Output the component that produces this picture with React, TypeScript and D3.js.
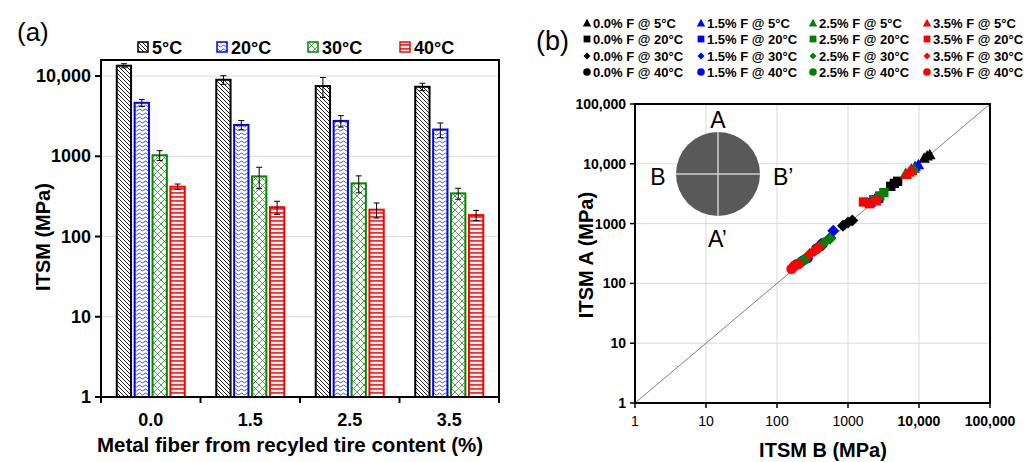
import React from "react";
import * as d3 from "d3";

// ---------- Panel (a) data ----------
const fiberContents = ["0.0", "1.5", "2.5", "3.5"];
const temps = ["5°C", "20°C", "30°C", "40°C"];
const itsm5 = [13450, 8990, 7500, 7350];
const itsm20 = [4640, 2460, 2760, 2155];
const itsm30 = [1030, 562, 460, 345];
const itsm40 = [418, 232, 216, 185];
const err5 = [800, 1100, 2100, 780];
const err20 = [450, 325, 450, 445];
const err30 = [145, 167, 110, 54];
const err40 = [33, 43, 46, 27];
const yTicksA = [1, 10, 100, 1000, 10000];
const yTickLabelsA = ["1", "10", "100", "1000", "10,000"];

// ---------- Panel (b) data (ITSM B, ITSM A per temperature) ----------
const fiberLabels = ["0.0%", "1.5%", "2.5%", "3.5%"];
const pointsB_00 = [[11800, 13000, 14200], [4000, 4500, 5000], [850, 1000, 1150], [360, 410, 440]];
const pointsA_00 = [[12500, 13600, 14300], [4200, 4700, 5100], [920, 1040, 1130], [380, 420, 460]];
const pointsB_15 = [[7800, 8800, 9800], [2100, 2450, 2700], [420, 560, 620], [190, 230, 270]];
const pointsA_15 = [[8200, 9100, 9700], [2250, 2500, 2650], [460, 580, 760], [210, 240, 265]];
const pointsB_25 = [[6500, 7600, 8600], [2300, 2800, 3200], [360, 460, 560], [180, 215, 250]];
const pointsA_25 = [[7000, 7700, 8400], [2500, 2900, 3300], [380, 480, 560], [200, 225, 255]];
const pointsB_35 = [[6600, 7200, 7900], [1650, 2000, 2500], [290, 340, 390], [160, 175, 200]];
const pointsA_35 = [[6700, 7300, 7800], [2300, 2150, 2400], [310, 350, 400], [175, 195, 210]];
const logTicksB = [1, 10, 100, 1000, 10000, 100000];
const logTickLabelsB = ["1", "10", "100", "1000", "10,000", "100,000"];

const FONT = "'Liberation Sans', Arial, sans-serif";
const seriesColors = ["#000000", "#0000ff", "#008000", "#ff0000"];
const barPatterns = ["pBlack", "pBlue", "pGreen", "pRed"];
const barStrokes = ["#000000", "#0000ff", "#008a00", "#ff0000"];

function shapePath(kind: number, s: number): string {
  const h = s / 2;
  if (kind === 0) {
    return `M0,${-h * 1.05}L${h * 1.05},${h * 0.85}L${-h * 1.05},${h * 0.85}Z`;
  }
  if (kind === 1) {
    return `M${-h * 0.85},${-h * 0.85}H${h * 0.85}V${h * 0.85}H${-h * 0.85}Z`;
  }
  if (kind === 2) {
    return `M0,${-h}L${h},0L0,${h}L${-h},0Z`;
  }
  return d3.arc()({ innerRadius: 0, outerRadius: h * 0.95, startAngle: 0, endAngle: Math.PI * 2 }) as string;
}

export default function App() {
  const aL = 101, aR = 499, aT = 60, aB = 397;
  const xA = d3.scaleBand().domain(fiberContents).range([aL, aR]).padding(0);
  const inner = d3.scaleBand().domain(temps).range([0, 68]).paddingInner(0.2);
  const yA = d3.scaleLog().domain([1, Math.pow(10, 4.2)]).range([aB, aT]);
  const values = [itsm5, itsm20, itsm30, itsm40];
  const errs = [err5, err20, err30, err40];
  const groupOffset = (xA.bandwidth() - 68) / 2;

  const bL = 635, bR = 990, bT = 104, bB = 403;
  const xB = d3.scaleLog().domain([1, 100000]).range([bL, bR]);
  const yB = d3.scaleLog().domain([1, 100000]).range([bB, bT]);
  const allB = [pointsB_00, pointsB_15, pointsB_25, pointsB_35];
  const allA = [pointsA_00, pointsA_15, pointsA_25, pointsA_35];

  const legendAX = [138, 217, 308, 400];
  const legendBX = [587, 701, 813, 927];
  const legendBY = [23, 39, 56, 72];

  const cx = 718, cy = 174, cr = 42;

  return (
    <svg width={1027} height={462} style={{ position: "absolute", left: 0, top: 0, background: "#fff" }} fontFamily={FONT}>
      <defs>
        <pattern id="pBlack" patternUnits="userSpaceOnUse" width="4" height="4">
          <rect width="4" height="4" fill="#fff" />
          <path d="M-1,-1 L5,5 M-1,3 L1,5 M3,-1 L5,1" stroke="#222" strokeWidth="1" />
        </pattern>
        <pattern id="pBlue" patternUnits="userSpaceOnUse" width="6" height="4">
          <rect width="6" height="4" fill="#fff" />
          <path d="M0,2 Q1.5,0.2 3,2 T6,2" fill="none" stroke="#3344dd" strokeWidth="0.9" />
        </pattern>
        <pattern id="pGreen" patternUnits="userSpaceOnUse" width="7" height="7">
          <rect width="7" height="7" fill="#fff" />
          <path d="M0,0 L7,7 M7,0 L0,7" stroke="#2e8b2e" strokeWidth="0.8" />
        </pattern>
        <pattern id="pRed" patternUnits="userSpaceOnUse" width="4" height="4">
          <rect width="4" height="4" fill="#fff" />
          <rect y="0" width="4" height="1.8" fill="#ff2a2a" />
        </pattern>
      </defs>

      {/* ================= Panel (a) ================= */}
      <text x={17} y={41} fontSize={26}>(a)</text>

      {temps.map((t, i) => (
        <g key={t}>
          <rect x={legendAX[i]} y={42} width={10} height={10} fill={`url(#${barPatterns[i]})`} stroke={barStrokes[i]} strokeWidth={1.5} />
          <text x={legendAX[i] + 14} y={47.5} fontSize={18} fontWeight="bold" dominantBaseline="central">{t}</text>
        </g>
      ))}

      {yTicksA.map((v) => (
        <line key={v} x1={aL} x2={aR} y1={yA(v)} y2={yA(v)} stroke="#d9d9d9" strokeWidth={1} />
      ))}

      {fiberContents.map((fc, gi) => (
        <g key={fc}>
          {temps.map((t, si) => {
            const x0 = (xA(fc) as number) + groupOffset + (inner(t) as number);
            const w = inner.bandwidth();
            const v = values[si][gi];
            const e = errs[si][gi];
            const top = yA(v);
            const xm = x0 + w / 2;
            return (
              <g key={t}>
                <rect x={x0} y={top} width={w} height={aB - top} fill={`url(#${barPatterns[si]})`} stroke={barStrokes[si]} strokeWidth={2} />
                <line x1={xm} x2={xm} y1={yA(v + e)} y2={yA(v - e)} stroke="#000" strokeWidth={1} />
                <line x1={xm - 3} x2={xm + 3} y1={yA(v + e)} y2={yA(v + e)} stroke="#000" strokeWidth={1} />
                <line x1={xm - 3} x2={xm + 3} y1={yA(v - e)} y2={yA(v - e)} stroke="#000" strokeWidth={1} />
              </g>
            );
          })}
        </g>
      ))}

      <rect x={aL} y={aT} width={aR - aL} height={aB - aT} fill="none" stroke="#000" strokeWidth={2} />

      {yTicksA.map((v, i) => (
        <g key={v}>
          <line x1={aL - 6} x2={aL} y1={yA(v)} y2={yA(v)} stroke="#000" strokeWidth={2} />
          <text x={aL - 10} y={yA(v)} fontSize={18} fontWeight="bold" textAnchor="end" dominantBaseline="central">{yTickLabelsA[i]}</text>
        </g>
      ))}
      {fiberContents.map((fc) => (
        <g key={fc}>
          <line x1={xA(fc) as number} x2={xA(fc) as number} y1={aB} y2={aB + 6} stroke="#000" strokeWidth={2} />
          <text x={(xA(fc) as number) + xA.bandwidth() / 2} y={420} fontSize={18} fontWeight="bold" textAnchor="middle" dominantBaseline="central">{fc}</text>
        </g>
      ))}
      <line x1={aR} x2={aR} y1={aB} y2={aB + 6} stroke="#000" strokeWidth={2} />

      <text x={290} y={444} fontSize={20.5} fontWeight="bold" textAnchor="middle" dominantBaseline="central">Metal fiber from recyled tire content (%)</text>
      <text transform={`translate(43,237) rotate(-90)`} fontSize={20} fontWeight="bold" textAnchor="middle" dominantBaseline="central">ITSM (MPa)</text>

      {/* ================= Panel (b) ================= */}
      <text x={536} y={50} fontSize={27}>(b)</text>

      {fiberLabels.map((fl, ci) => (
        <g key={fl}>
          {temps.map((t, ri) => (
            <g key={t}>
              <path d={shapePath(ri, ri === 2 ? 7 : 8)} transform={`translate(${legendBX[ci]},${legendBY[ri]})`} fill={seriesColors[ci]} />
              <text x={legendBX[ci] + 6} y={legendBY[ri]} fontSize={13} fontWeight="bold" dominantBaseline="central">{`${fl} F @ ${t}`}</text>
            </g>
          ))}
        </g>
      ))}

      {logTicksB.map((v) => (
        <g key={v}>
          <line x1={xB(v)} x2={xB(v)} y1={bT} y2={bB} stroke="#d9d9d9" strokeWidth={1} />
          <line x1={bL} x2={bR} y1={yB(v)} y2={yB(v)} stroke="#d9d9d9" strokeWidth={1} />
        </g>
      ))}

      <circle cx={cx} cy={cy} r={cr} fill="#595959" />
      <line x1={cx - cr} x2={cx + cr} y1={cy} y2={cy} stroke="#d0d0d0" strokeWidth={1.5} />
      <line x1={cx} x2={cx} y1={cy - cr} y2={cy + cr} stroke="#d0d0d0" strokeWidth={1.5} />
      <text x={cx} y={128} fontSize={23} textAnchor="middle">A</text>
      <text x={658} y={185} fontSize={23} textAnchor="middle">B</text>
      <text x={773} y={185} fontSize={23}>B’</text>
      <text x={708} y={247} fontSize={23}>A’</text>

      <line x1={xB(1)} y1={yB(1)} x2={xB(100000)} y2={yB(100000)} stroke="#808080" strokeWidth={1} />

      {fiberLabels.map((fl, ci) => (
        <g key={fl}>
          {temps.map((t, ri) => (
            <g key={t}>
              {allB[ci][ri].map((bv, k) => (
                <path key={k} d={shapePath(ri, ri === 2 ? 12 : 11)} transform={`translate(${xB(bv)},${yB(allA[ci][ri][k])})`} fill={seriesColors[ci]} />
              ))}
            </g>
          ))}
        </g>
      ))}

      <rect x={bL} y={bT} width={bR - bL} height={bB - bT} fill="none" stroke="#000" strokeWidth={2} />

      {logTicksB.map((v, i) => (
        <g key={v}>
          <line x1={bL - 5} x2={bL} y1={yB(v)} y2={yB(v)} stroke="#000" strokeWidth={1.5} />
          <text x={bL - 9} y={yB(v)} fontSize={14} fontWeight="bold" textAnchor="end" dominantBaseline="central">{logTickLabelsB[i]}</text>
          <line x1={xB(v)} x2={xB(v)} y1={bB} y2={bB + 5} stroke="#000" strokeWidth={1.5} />
          <text x={xB(v)} y={421} fontSize={14} fontWeight={v >= 10000 ? "bold" : "normal"} textAnchor="middle" dominantBaseline="central">{logTickLabelsB[i]}</text>
        </g>
      ))}

      <text x={823} y={450} fontSize={20} fontWeight="bold" textAnchor="middle" dominantBaseline="central">ITSM B (MPa)</text>
      <text transform={`translate(586,255) rotate(-90)`} fontSize={20} fontWeight="bold" textAnchor="middle" dominantBaseline="central">ITSM A (MPa)</text>
    </svg>
  );
}
